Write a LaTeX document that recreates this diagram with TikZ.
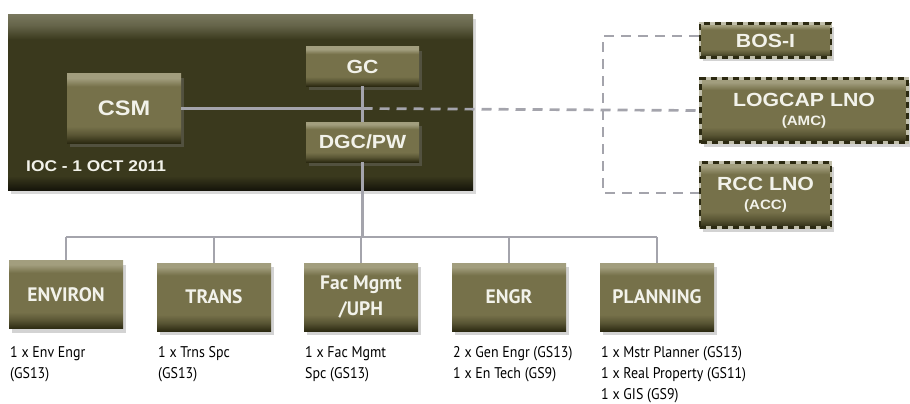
\documentclass[tikz,border=0pt]{standalone}
\usepackage{fontspec}
\usepackage{tikz}
\usetikzlibrary{shadows,calc}
\newfontfamily\hdfont[FakeStretch=1.12]{Liberation Sans}
\newfontfamily\ptfont{PT Sans}
\newfontfamily\descfont[FakeStretch=0.9]{PT Sans}
\definecolor{boxface}{HTML}{76714A}
\definecolor{boxtop}{HTML}{A29E7E}
\definecolor{boxbot}{HTML}{2C2A12}
\definecolor{bigface}{HTML}{3A391D}
\definecolor{bigtop}{HTML}{77765C}
\definecolor{bigbot}{HTML}{15140A}
\definecolor{linegray}{HTML}{A4A4AC}
\definecolor{labelwhite}{HTML}{F2F2EA}
\pgfdeclareverticalshading{bevel}{100bp}{color(0bp)=(boxbot); color(25bp)=(boxbot); color(31bp)=(boxface!60!boxbot); color(37bp)=(boxface); color(66bp)=(boxface); color(72bp)=(boxtop); color(75bp)=(boxtop); color(100bp)=(boxtop)}
\pgfdeclareverticalshading{bigbevel}{100bp}{color(0bp)=(bigbot); color(25bp)=(bigbot); color(29bp)=(bigface); color(68bp)=(bigface); color(72bp)=(bigtop!70!bigface); color(75bp)=(bigtop); color(100bp)=(bigtop)}
\tikzset{
  unitbox/.style={shading=bevel, inner sep=2pt, align=center, text=labelwhite,
    drop shadow={opacity=0.35, shadow xshift=3pt, shadow yshift=-4pt}},
  topbox/.style={unitbox, font=\hdfont\bfseries\fontsize{19}{22}\selectfont},
  lnobox/.style={topbox, draw=labelwhite!60!boxface, line width=2.2pt,
    postaction={draw=boxbot, line width=2.2pt, dash pattern=on 6pt off 5pt}},
  branchbox/.style={unitbox, minimum width=114pt, minimum height=68pt,
    font=\ptfont\bfseries\fontsize{19.5}{26}\selectfont},
  staff/.style={anchor=north west, inner sep=0pt, align=left,
    font=\descfont\fontsize{15.5}{21}\selectfont},
  orgline/.style={draw=linegray, line width=2.7pt},
  dashline/.style={orgline, dash pattern=on 10pt off 7pt}
}
\begin{document}
\begin{tikzpicture}[x=1pt, y=-1pt]
  \useasboundingbox (0,0) rectangle (910,404);
  % command group
  \node[shading=bigbevel, minimum width=465pt, minimum height=175pt,
    drop shadow={opacity=0.3, shadow xshift=3pt, shadow yshift=-4pt}] (hq) at (240.5,102.5) {};
  \node[anchor=west, inner sep=0pt, text=labelwhite,
    font=\hdfont\bfseries\fontsize{15.5}{18}\selectfont] (ioc) at (26,166) {IOC - 1 OCT 2011};
  \node[topbox, minimum width=113pt, minimum height=39pt] (gc) at (362.5,66.5) {GC};
  \node[topbox, minimum width=114pt, minimum height=69pt,
    font=\hdfont\bfseries\fontsize{21}{24}\selectfont] (csm) at (124,108.5) {CSM};
  \node[topbox, minimum width=113pt, minimum height=40pt] (dgc) at (362.5,142) {DGC/PW};
  % liaison officers
  \node[lnobox, minimum width=131pt, minimum height=34pt] (bos) at (765.5,40.5) {BOS-I};
  \node[lnobox, minimum width=207pt, minimum height=64pt] (logcap) at (804,110.5)
    {LOGCAP LNO\\[-3pt]{\fontsize{13.5}{16}\selectfont (AMC)}};
  \node[lnobox, minimum width=131pt, minimum height=65pt] (rcc) at (765.5,195)
    {RCC LNO\\[-3pt]{\fontsize{13.5}{16}\selectfont (ACC)}};
  % branches
  \node[branchbox] (env) at (66,294.5) {ENVIRON};
  \node[branchbox] (trans) at (214,297) {TRANS};
  \node[branchbox] (fac) at (361,297) {Fac Mgmt\\/UPH};
  \node[branchbox] (engr) at (509,297) {ENGR};
  \node[branchbox] (plan) at (657,297) {PLANNING};
  % staffing
  \node[staff] (envstaff) at (10,346) {1 x Env Engr\\(GS13)};
  \node[staff] (transstaff) at (158,346) {1 x Trns Spc\\(GS13)};
  \node[staff] (facstaff) at (305,346) {1 x Fac Mgmt\\Spc (GS13)};
  \node[staff] (engrstaff) at (453,346) {2 x Gen Engr (GS13)\\1 x En Tech (GS9)};
  \node[staff] (planstaff) at (601,346) {1 x Mstr Planner (GS13)\\1 x Real Property (GS11)\\1 x GIS (GS9)};
  % connectors
  \coordinate (bus) at (362.5,237);
  \coordinate (rtop) at (603,36);
  \coordinate (rbot) at (603,193);
  \draw[orgline] (gc.south) -- (dgc.north);
  \draw[orgline] (csm.east) -- (csm.east -| gc.south);
  \draw[dashline] (csm.east -| gc.south) -- (logcap.west);
  \draw[dashline] ([yshift=4.5pt]bos.west) -- (rtop) -- (rbot) -- (rcc.west |- rbot);
  \draw[orgline] (dgc.south) -- (bus);
  \draw[orgline] (bus -| env.north) -- (bus -| plan.north);
  \foreach \b in {env,trans,fac,engr,plan}
    \draw[orgline] (bus -| \b.north) -- (\b.north);
\end{tikzpicture}
\end{document}
